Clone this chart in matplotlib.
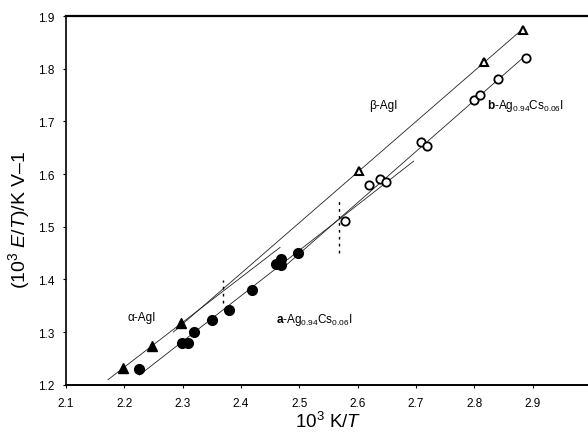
import numpy as np
import matplotlib
matplotlib.use("Agg")
import matplotlib.pyplot as plt

plt.rcParams['font.family'] = ['Liberation Sans', 'DejaVu Sans']
plt.rcParams['mathtext.fontset'] = 'custom'
plt.rcParams['mathtext.rm'] = 'Liberation Sans'
plt.rcParams['mathtext.it'] = 'Liberation Sans:italic'
plt.rcParams['mathtext.bf'] = 'Liberation Sans:bold'

# alpha-AgI (filled triangles)
alpha_x = [2.197, 2.247, 2.298]
alpha_y = [1.231, 1.273, 1.317]
# beta-AgI (open triangles)
beta_x = [2.603, 2.816, 2.883]
beta_y = [1.606, 1.813, 1.874]
# a-Ag0.94Cs0.06I (filled circles)
a_x = [2.225, 2.299, 2.309, 2.320, 2.350, 2.380, 2.419, 2.460, 2.469, 2.469, 2.498]
a_y = [1.230, 1.280, 1.280, 1.301, 1.322, 1.341, 1.380, 1.430, 1.439, 1.428, 1.450]
# b-Ag0.94Cs0.06I (open circles)
b_x = [2.579, 2.619, 2.639, 2.649, 2.708, 2.719, 2.799, 2.809, 2.840, 2.889]
b_y = [1.510, 1.580, 1.591, 1.584, 1.661, 1.653, 1.741, 1.750, 1.780, 1.820]

# x ranges over which the fitted lines are drawn
alpha_fit_range = [2.172, 2.467]
beta_fit_range = [2.284, 2.885]
a_fit_range = [2.226, 2.696]
b_fit_range = [2.479, 2.889]

# transition temperatures (dashed markers)
trans_x = [2.370, 2.568]
trans_ylo = [1.356, 1.451]
trans_yhi = [1.398, 1.552]

fig = plt.figure(figsize=(5.88, 4.35), dpi=100)
ax = fig.add_axes([0.1122, 0.1133, 0.8929, 0.8476])

line_kw = dict(color='#222222', lw=0.6)
for xs, ys, rng in [(alpha_x, alpha_y, alpha_fit_range),
                    (beta_x, beta_y, beta_fit_range),
                    (a_x, a_y, a_fit_range),
                    (b_x, b_y, b_fit_range)]:
    p = np.polyfit(xs, ys, 1)
    xx = np.array(rng)
    ax.plot(xx, np.polyval(p, xx), **line_kw)

for x, lo, hi in zip(trans_x, trans_ylo, trans_yhi):
    ax.plot([x, x], [lo, hi], color='black', lw=1.0, ls=(0, (2, 3)))

ax.plot(alpha_x, alpha_y, '^', color='black', ms=7.5, zorder=3)
ax.plot(beta_x, beta_y, '^', mfc='white', mec='black', mew=1.5, ms=6, zorder=3)
ax.plot(a_x, a_y, 'o', color='black', ms=7, zorder=3)
ax.plot(b_x, b_y, 'o', mfc='white', mec='black', mew=1.3, ms=6, zorder=3)

fs = 8.5
ax.text(2.23, 1.329, 'α-AgI', fontsize=fs, ha='center', va='center')
ax.text(2.644, 1.731, 'β-AgI', fontsize=fs, ha='center', va='center')
ax.text(2.46, 1.325, r'$\mathbf{a}$-Ag$_{0.94}$Cs$_{0.06}$I', fontsize=fs, ha='left', va='center')
ax.text(2.822, 1.731, r'$\mathbf{b}$-Ag$_{0.94}$Cs$_{0.06}$I', fontsize=fs, ha='left', va='center')

ax.set_xlim(2.1, 3.0)
ax.set_ylim(1.2, 1.9)
ax.set_xticks(np.arange(2.1, 2.95, 0.1))
ax.set_yticks(np.arange(1.2, 1.95, 0.1))
ax.xaxis.set_major_formatter(matplotlib.ticker.FormatStrFormatter('%.1f'))
ax.yaxis.set_major_formatter(matplotlib.ticker.FormatStrFormatter('%.1f'))
ax.tick_params(axis='x', direction='out', length=2, width=0.8, pad=7, labelsize=fs)
ax.tick_params(axis='y', direction='out', length=2, width=0.8, pad=6, labelsize=fs)
ax.spines['right'].set_visible(False)
ax.spines['top'].set_linewidth(1.6)
ax.spines['left'].set_linewidth(1.2)
ax.spines['bottom'].set_linewidth(1.4)

ax.set_xlabel(r'10$^3$ K/$\mathit{T}$', fontsize=13.5, labelpad=1)
ax.set_ylabel(r'(10$^3$ $\mathit{E}$/$\mathit{T}$)/K V–1', fontsize=14, labelpad=4)
ax.yaxis.set_label_coords(-0.065, 0.45)

plt.savefig('out.png', dpi=100)
